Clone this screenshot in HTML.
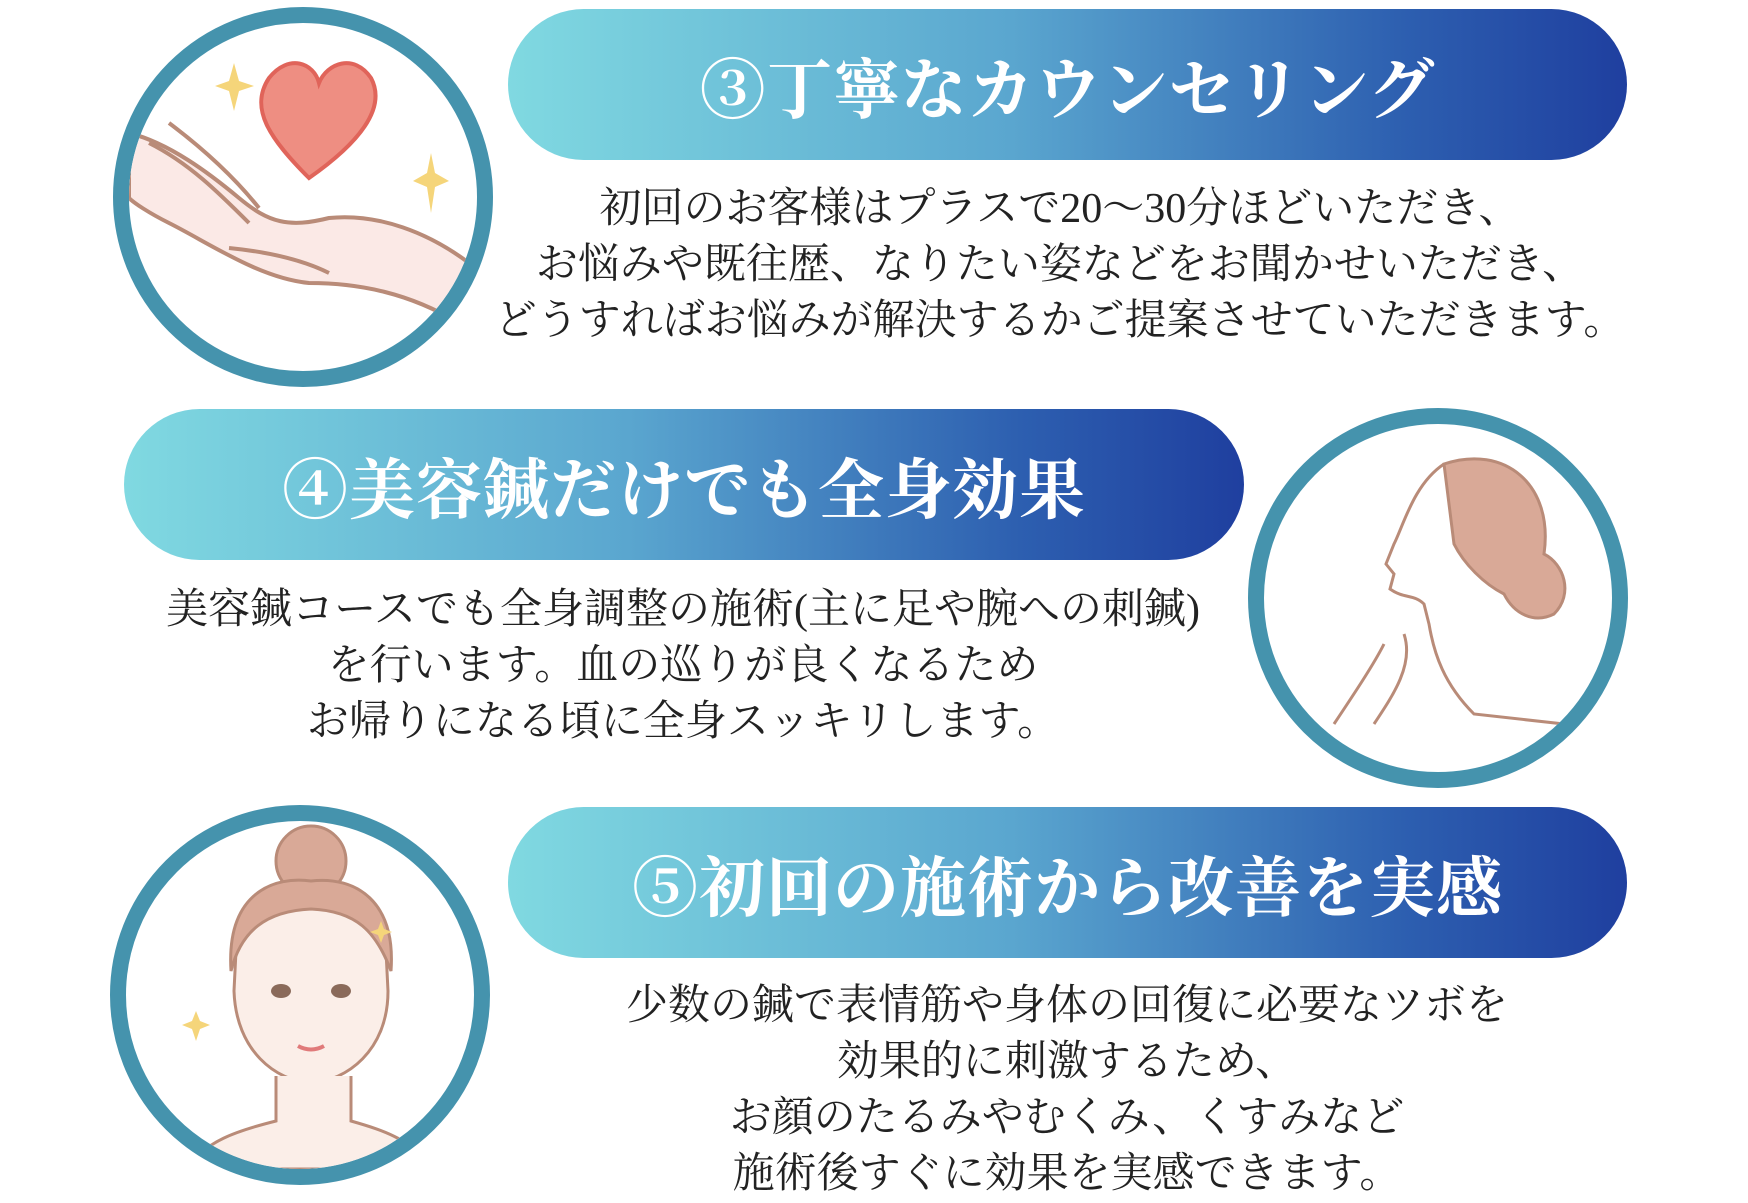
<!DOCTYPE html>
<html><head><meta charset="utf-8"><style>
body{margin:0;width:1748px;height:1203px;background:#fff;position:relative;overflow:hidden;font-family:"Liberation Serif","Noto Serif CJK SC",serif;}
.ban{position:absolute;height:151px;border-radius:76px;background:linear-gradient(90deg,#80d9e1 0%,#5aa6cf 45%,#2d5fb0 80%,#1f3f9f 100%);color:#fff;font-weight:bold;font-size:66px;display:flex;align-items:center;justify-content:center;letter-spacing:1px;}
.txt{position:absolute;font-size:42px;line-height:56px;color:#222;text-align:center;white-space:nowrap;}
.circ{position:absolute;width:348px;height:348px;border:16px solid #4593ad;border-radius:50%;background:#fff;overflow:hidden;}
</style></head><body>
<div class="circ" style="left:113px;top:7px;">
<svg width="348" height="348" viewBox="0 0 348 348">
<path d="M190 180 C150 140 130 110 150 80 C170 55 195 65 200 85 C208 65 235 55 252 80 C268 110 240 145 190 180Z" fill="#ee8e82" stroke="#e0645a" stroke-width="4" transform="translate(-10,-25)"/>
<path d="M105 40 L110 58 L125 63 L110 68 L105 88 L100 68 L86 63 L100 58Z" fill="#f5d57a"/>
<path d="M302 130 L306 150 L320 158 L306 164 L302 190 L298 164 L284 158 L298 150Z" fill="#f5d57a"/>
<path d="M0 110 C40 120 80 150 110 175 C140 200 160 205 200 195 C250 190 300 210 340 240 L330 300 C280 270 230 260 180 260 C130 255 80 220 40 200 C20 190 5 180 0 175Z" fill="#fbe9e6" stroke="#b98b78" stroke-width="4"/>
<path d="M20 120 C60 140 90 170 120 200 M40 100 C80 130 110 160 130 185 M100 225 C150 230 180 240 200 250" stroke="#b98b78" stroke-width="4" fill="none"/>
</svg></div>
<div class="ban" style="left:508px;top:9px;width:1119px;">③丁寧なカウンセリング</div>
<div class="txt" style="left:460px;width:1200px;top:181px;">初回のお客様はプラスで20〜30分ほどいただき、<br>お悩みや既往歴、なりたい姿などをお聞かせいただき、<br>どうすればお悩みが解決するかご提案させていただきます。</div>

<div class="ban" style="left:124px;top:409px;width:1120px;">④美容鍼だけでも全身効果</div>
<div class="circ" style="left:1248px;top:408px;">
<svg width="348" height="348" viewBox="0 0 348 348">
<path d="M180 40 C240 20 290 60 280 130 C300 140 310 170 290 190 C270 200 250 190 240 170 C220 160 200 140 190 120 Z" fill="#d9a997" stroke="#b98b78" stroke-width="3"/>
<path d="M180 40 C150 60 140 100 130 120 L122 140 L130 150 L126 165 C140 175 150 170 160 180 L165 200 C170 230 180 260 210 290 L300 300" fill="none" stroke="#b98b78" stroke-width="3"/>
<path d="M120 220 C110 240 90 270 70 300 M140 210 C150 240 130 270 110 300" fill="none" stroke="#b98b78" stroke-width="3"/>
</svg></div>
<div class="txt" style="left:83px;width:1200px;top:582px;">美容鍼コースでも全身調整の施術(主に足や腕への刺鍼)<br>を行います。血の巡りが良くなるため<br>お帰りになる頃に全身スッキリします。</div>

<div class="circ" style="left:110px;top:805px;">
<svg width="348" height="348" viewBox="0 0 348 348">
<circle cx="185" cy="40" r="35" fill="#d9a997" stroke="#b98b78" stroke-width="3"/>
<path d="M110 130 C110 60 260 60 260 130 L262 170 C262 230 220 260 185 262 C150 260 110 230 108 170Z" fill="#fbeee8" stroke="#b98b78" stroke-width="3"/>
<path d="M105 150 C100 70 150 55 185 60 C230 55 270 80 265 150 C250 110 230 90 185 88 C140 90 115 110 105 150Z" fill="#d9a997" stroke="#b98b78" stroke-width="3"/>
<ellipse cx="155" cy="170" rx="10" ry="7" fill="#8a6a5a"/><ellipse cx="215" cy="170" rx="10" ry="7" fill="#8a6a5a"/>
<path d="M172 225 Q185 232 198 225" stroke="#e07a7a" stroke-width="4" fill="none"/>
<path d="M150 255 L150 300 C110 310 80 320 60 348 L300 348 C290 320 260 310 225 300 L225 255" fill="#fbeee8" stroke="#b98b78" stroke-width="3"/>
<path d="M70 190 L74 200 L84 204 L74 208 L70 220 L66 208 L56 204 L66 200Z" fill="#f5d57a"/>
<path d="M255 100 L258 108 L266 111 L258 114 L255 122 L252 114 L244 111 L252 108Z" fill="#f5d57a"/>
</svg></div>
<div class="ban" style="left:508px;top:807px;width:1119px;">⑤初回の施術から改善を実感</div>
<div class="txt" style="left:467px;width:1200px;top:978px;">少数の鍼で表情筋や身体の回復に必要なツボを<br>効果的に刺激するため、<br>お顔のたるみやむくみ、くすみなど<br>施術後すぐに効果を実感できます。</div>
</body></html>
